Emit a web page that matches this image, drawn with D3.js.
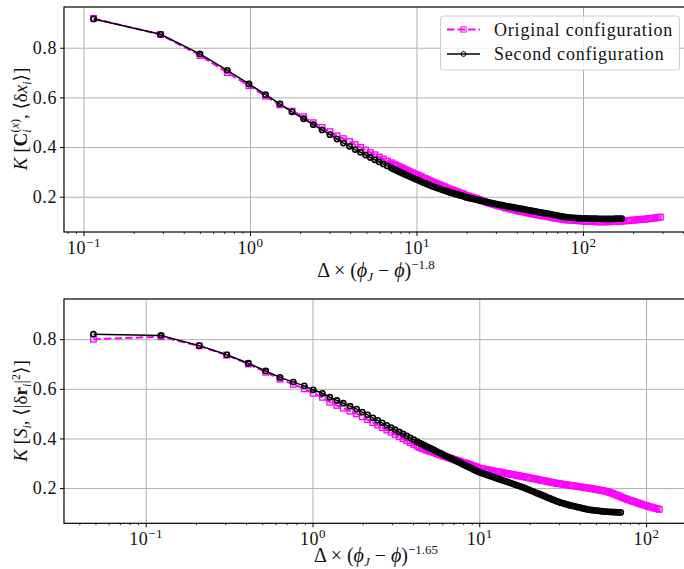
<!DOCTYPE html>
<html><head><meta charset="utf-8">
<script src="https://cdn.jsdelivr.net/npm/d3@7"></script>
<style>
body{margin:0;background:#fff}
svg{display:block}
text{font-family:"Liberation Serif","DejaVu Serif",serif;fill:#111}
</style></head>
<body><svg id="c" width="684" height="569"></svg>
<script>
// ---------- DATA ----------
const seriesNames = ["Original configuration", "Second configuration"];
const xTickValues = [0.1, 1, 10, 100];
const xTickExponents = ["\u22121", "0", "1", "2"];
const yTickValues = [0.2, 0.4, 0.6, 0.8];

const topX = [0.115,0.29,0.50,0.73,0.985,1.24,1.51,1.79,2.10,2.40,
2.71,3.02,3.33,3.64,3.96,4.28,4.61,4.94,5.28,5.62,5.97,6.32,6.68,
7.04,7.25,7.47,7.7,7.93,8.17,8.41,8.66,8.92,9.19,
9.47,9.75,10.04,10.34,10.65,10.97,11.3,11.64,11.99,12.35,
12.72,13.1,13.49,13.9,14.32,14.75,15.19,15.65,16.1,16.6,
17.1,17.6,18.1,18.7,19.2,19.8,20.4,21,21.6,22.3,
23,23.6,24.3,25.1,25.8,26.6,27.4,28.2,29.1,29.9,
30.8,31.8,32.7,33.7,34.7,35.8,36.8,37.9,39.1,40.3,
41.5,42.7,44,45.3,46.7,48.1,49.5,51,52.5,54.1,
55.7,57.4,59.1,60.9,62.7,64.6,66.5,68.5,70.6,72.7,
74.9,77.1,79.4,81.8,84.3,86.8,89.4,92.1,94.8,97.7,
100.6,103.6,106.7,109.9,113.2,116.6,120.1,123.7,127.4,131.2,
135.2,139.2,143.4,147.7,152.1,156.7,161.4,166.2,171.2,
176.4,181.7,187.1,192.7,198.5,204.5,210.6,216.9,223.4,230.1,
237,244.1,251.5,259,266.8,274.8,283,291.5];
const topOriginal = [.918,.853,.769,.700,.647,.605,.570,.545,.522,.498,
.479,.462,.445,.434,.422,.410,.399,.388,.378,.369,.360,.352,.344,
.337,.332,.328,.324,.320,.316,.312,.308,.304,.300,
.296,.292,.289,.285,.281,.276,.273,.269,.265,.261,
.257,.254,.250,.247,.243,.240,.236,.232,.229,.226,
.222,.220,.216,.213,.211,.206,.203,.200,.198,.195,
.192,.189,.186,.183,.180,.177,.174,.172,.169,.167,
.164,.162,.160,.157,.154,.153,.150,.149,.146,.144,
.142,.140,.139,.137,.135,.133,.131,.130,.128,.126,
.125,.123,.122,.120,.119,.117,.115,.114,.112,.111,
.110,.108,.107,.106,.106,.105,.104,.104,.103,.103,
.102,.101,.101,.100,.100,.100,.099,.099,.099,.099,
.099,.099,.099,.100,.100,.100,.101,.101,.102,.103,
.103,.104,.105,.106,.106,.107,.108,.109,.109,.110,
.111,.112,.113,.114,.115,.117,.118];
const topSecond = [.916,.854,.775,.709,.654,.611,.574,.542,.514,.490,
.469,.450,.432,.416,.403,.390,.379,.368,.358,.349,.340,.332,.324,
.317,.312,.308,.304,.300,.296,.292,.288,.284,.280,
.276,.272,.269,.265,.261,.257,.254,.250,.247,.243,
.240,.237,.234,.231,.228,.225,.222,.219,.216,.214,
.211,.209,.206,.204,.202,.198,.196,.194,.192,.190,
.188,.186,.184,.182,.180,.178,.176,.174,.172,.171,
.169,.167,.166,.164,.162,.161,.159,.158,.156,.154,
.153,.151,.150,.148,.146,.145,.143,.142,.140,.138,
.137,.135,.134,.132,.131,.129,.127,.126,.124,.122,
.121,.119,.118,.117,.116,.115,.115,.114,.114,.113,
.113,.113,.112,.112,.112,.112,.112,.111,.111,.111,
.111,.111,.111,.111,.111,.112,.112,.112,.112];

const botX = [0.0486,0.1236,0.2095,0.306,0.412,0.524,0.638,0.767,0.893,1.01,
1.146,1.27,1.40,1.53,1.68,1.84,1.99,2.14,2.30,2.46,
2.62,2.79,2.96,3.13,3.31,3.49,3.67,3.86,4.05,4.24,
4.37,4.50,4.64,4.78,4.92,5.07,5.22,5.38,5.54,5.71,
5.88,6.06,6.24,6.43,6.62,6.82,7.02,7.23,7.45,7.67,
7.9,8.14,8.38,8.63,8.89,9.16,9.43,9.71,10,10.3,
10.61,10.93,11.26,11.6,11.95,12.31,12.68,13.06,13.45,13.85,
14.27,14.7,15.14,15.59,16.06,16.54,17.04,17.55,18.08,18.62,
19.18,19.75,20.34,20.95,21.58,22.23,22.9,23.59,24.3,25.03,
25.78,26.55,27.35,28.17,29.02,29.89,30.79,31.71,32.66,33.64,
34.65,35.69,36.76,37.86,39,40.17,41.38,42.62,43.9,45.22,
46.58,47.98,49.42,50.9,52.43,54,55.62,57.29,59.01,60.78,
62.6,64.48,66.41,68.4,70.45,
72.56,74.74,76.98,79.29,81.67,84.12,86.64,89.24,91.92,94.68,
97.52,100.4,103.4,106.5,109.7,113,116.4,119.9];
const botOriginal = [.800,.810,.773,.736,.700,.667,.639,.618,.600,.582,
.566,.546,.533,.522,.510,.499,.487,.476,.464,.454,
.444,.434,.425,.416,.407,.399,.391,.383,.376,.369,
.364,.361,.358,.354,.351,.348,.346,.343,.339,.336,
.333,.329,.327,.324,.321,.319,.315,.313,.310,.308,
.304,.302,.299,.296,.294,.290,.287,.284,.280,.278,
.277,.275,.273,.272,.270,.268,.267,.265,.264,.262,
.260,.259,.257,.255,.254,.252,.250,.249,.247,.245,
.244,.242,.240,.238,.237,.235,.233,.231,.230,.228,
.226,.224,.223,.221,.219,.218,.217,.215,.214,.213,
.211,.210,.209,.208,.206,.205,.204,.202,.201,.200,
.198,.197,.195,.194,.192,.191,.189,.187,.185,.182,
.179,.175,.172,.169,.165,
.161,.158,.155,.152,.149,.146,.143,.140,.137,.134,
.131,.129,.126,.124,.121,.119,.117,.114];
const botSecond = [.820,.815,.774,.737,.703,.672,.646,.627,.612,.596,
.582,.566,.553,.542,.530,.518,.506,.495,.483,.473,
.463,.453,.444,.435,.426,.418,.410,.402,.395,.387,
.382,.378,.374,.369,.365,.361,.357,.353,.348,.344,
.340,.335,.331,.327,.323,.319,.314,.310,.306,.302,
.297,.293,.289,.285,.281,.276,.272,.268,.264,.261,
.258,.255,.252,.249,.246,.243,.240,.237,.234,.231,
.228,.225,.222,.219,.216,.213,.210,.207,.204,.201,
.197,.194,.190,.187,.183,.179,.176,.172,.169,.165,
.161,.158,.154,.151,.147,.144,.141,.139,.136,.134,
.131,.129,.127,.125,.123,.121,.119,.117,.115,.113,
.112,.111,.110,.109,.108,.107,.106,.105,.105,.104,
.104,.103,.103,.102,.102];

// ---------- DRAW ----------
const svg = d3.select("#c");
const MAG = "#ff00ff";
const FS = 18;

function minorTicks(dom){
  const out=[];
  for(let e=-3;e<=3;e++){for(let m=2;m<=9;m++){const v=m*Math.pow(10,e); if(v>=dom[0]&&v<=dom[1]) out.push(v);} }
  return out;
}

function panel(cfg){
  const L=64, R=700;
  const g = svg.append("g");
  const x = d3.scaleLog().domain(cfg.xdom).range([L,R]);
  const y = d3.scaleLinear().domain(cfg.ydom).range([cfg.bottom,cfg.top]);
  const H = cfg.bottom-cfg.top;
  const clipId = "clip"+cfg.id;
  svg.append("clipPath").attr("id",clipId).append("rect")
    .attr("x",L).attr("y",cfg.top).attr("width",R-L).attr("height",H);

  // grid
  const gx = g.append("g").attr("transform",`translate(0,${cfg.bottom})`)
    .call(d3.axisBottom(x).tickValues(xTickValues).tickSize(-H).tickFormat(""));
  gx.select(".domain").remove();
  gx.selectAll("line").attr("stroke","#b0b0b0").attr("stroke-width",1);
  const gy = g.append("g").attr("transform",`translate(${L},0)`)
    .call(d3.axisLeft(y).tickValues(yTickValues).tickSize(-(R-L)).tickFormat(""));
  gy.select(".domain").remove();
  gy.selectAll("line").attr("stroke","#b0b0b0").attr("stroke-width",1);

  // data
  const data = g.append("g").attr("clip-path",`url(#${clipId})`);
  const line = d3.line().x(d=>x(d[0])).y(d=>y(d[1]));
  const orig = cfg.xs.slice(0,cfg.orig.length).map((v,i)=>[v,cfg.orig[i]]);
  const sec = cfg.xs.slice(0,cfg.sec.length).map((v,i)=>[v,cfg.sec[i]]);
  data.append("path").datum(orig).attr("d",line).attr("fill","none")
    .attr("stroke",MAG).attr("stroke-width",2).attr("stroke-dasharray","7.4,3.2");
  data.selectAll(".sq").data(orig).enter().append("rect")
    .attr("x",d=>x(d[0])-2.8).attr("y",d=>y(d[1])-2.8).attr("width",5.6).attr("height",5.6)
    .attr("fill","none").attr("stroke",MAG).attr("stroke-width",1.3);
  data.append("path").datum(sec).attr("d",line).attr("fill","none")
    .attr("stroke","#000").attr("stroke-width",1.5);
  data.selectAll(".ci").data(sec).enter().append("circle")
    .attr("cx",d=>x(d[0])).attr("cy",d=>y(d[1])).attr("r",2.6)
    .attr("fill","none").attr("stroke","#000").attr("stroke-width",1.6);

  // spines
  g.append("rect").attr("x",L).attr("y",cfg.top).attr("width",R-L).attr("height",H)
    .attr("fill","none").attr("stroke","#000").attr("stroke-width",1.2);

  // x axis major ticks + labels
  const ax = g.append("g").attr("transform",`translate(0,${cfg.bottom})`)
    .call(d3.axisBottom(x).tickValues(xTickValues).tickSize(4).tickPadding(4).tickFormat(""));
  ax.select(".domain").remove();
  ax.selectAll("line").attr("stroke","#000").attr("stroke-width",1);
  ax.selectAll(".tick").each(function(d,i){
    const t=d3.select(this).append("text").attr("y",cfg.tickLabelDy).attr("text-anchor","middle")
      .style("font-size",FS+"px").style("letter-spacing","0.5px");
    t.append("tspan").text("10");
    t.append("tspan").attr("dy",-7).style("font-size","13px").text(xTickExponents[i]);
  });
  const axm = g.append("g").attr("transform",`translate(0,${cfg.bottom})`)
    .call(d3.axisBottom(x).tickValues(minorTicks(cfg.xdom).filter(v=>x(v)<=684)).tickSize(2).tickFormat(""));
  axm.select(".domain").remove();
  axm.selectAll("line").attr("stroke","#000").attr("stroke-width",0.8);

  // y axis
  const ay = g.append("g").attr("transform",`translate(${L},0)`)
    .call(d3.axisLeft(y).tickValues(yTickValues).tickSize(4).tickPadding(3).tickFormat(d3.format(".1f")));
  ay.select(".domain").remove();
  ay.selectAll("line").attr("stroke","#000").attr("stroke-width",1);
  ay.selectAll("text").style("font-size",FS+"px").style("letter-spacing","0.6px")
    .attr("fill","#111").attr("font-family",null);

  // x label
  const xl = g.append("text").attr("x",cfg.xlabelX).attr("y",cfg.xlabelY).attr("text-anchor","middle")
    .style("font-size","20px");
  xl.append("tspan").text("\u0394 \u00d7 (");
  xl.append("tspan").style("font-style","italic").text("\u03d5");
  xl.append("tspan").attr("dy",4).style("font-size","13px").style("font-style","italic").text("J");
  xl.append("tspan").attr("dy",-4).text(" \u2212 ");
  xl.append("tspan").style("font-style","italic").text("\u03d5");
  xl.append("tspan").text(")");
  xl.append("tspan").attr("dy",-8).style("font-size","13px").text(cfg.expo);

  // y label
  const yl = g.append("text").attr("transform",`translate(27,${cfg.ylabelY}) rotate(-90)`)
    .attr("text-anchor","middle").style("font-size","19px");
  cfg.ylabel(yl);
  return {x,y};
}

panel({id:"t", xdom:[0.07636,504.3], ydom:[0.058,0.964], top:7, bottom:232,
  xs:topX, orig:topOriginal, sec:topSecond, tickLabelDy:22, xlabelX:376, xlabelY:277, expo:"\u22121.8",
  ylabelY:119,
  ylabel:(t)=>{
    t.append("tspan").style("font-style","italic").text("K");
    t.append("tspan").text(" [");
    t.append("tspan").style("font-weight","bold").text("C");
    t.append("tspan").attr("dy",4).style("font-size","12px").style("font-style","italic").text("i");
    t.append("tspan").attr("dx",-3).attr("dy",-12).style("font-size","12px").text("(");
    t.append("tspan").style("font-size","12px").style("font-style","italic").text("x");
    t.append("tspan").style("font-size","12px").text(")");
    t.append("tspan").attr("dy",8).text(", \u27e8\u03b4");
    t.append("tspan").style("font-style","italic").text("x");
    t.append("tspan").attr("dy",4).style("font-size","12px").style("font-style","italic").text("i");
    t.append("tspan").attr("dy",-4).text("\u27e9]");
  }});

panel({id:"b", xdom:[0.03237,210.5], ydom:[0.058,0.962], top:299, bottom:523.3,
  xs:botX, orig:botOriginal, sec:botSecond, tickLabelDy:22, xlabelX:376, xlabelY:562, expo:"\u22121.65",
  ylabelY:411,
  ylabel:(t)=>{
    t.append("tspan").style("font-style","italic").text("K");
    t.append("tspan").text(" [");
    t.append("tspan").style("font-style","italic").text("S");
    t.append("tspan").attr("dy",4).style("font-size","12px").style("font-style","italic").text("i");
    t.append("tspan").attr("dy",-4).text(", \u27e8|\u03b4");
    t.append("tspan").style("font-weight","bold").text("r");
    t.append("tspan").attr("dy",4).style("font-size","12px").style("font-style","italic").text("i");
    t.append("tspan").attr("dy",-4).text("|");
    t.append("tspan").attr("dy",-7).style("font-size","12px").text("2");
    t.append("tspan").attr("dy",7).text("\u27e9]");
  }});

// legend (top panel)
const lg = svg.append("g");
lg.append("rect").attr("x",440.5).attr("y",16).attr("width",239).attr("height",54).attr("rx",3)
  .attr("fill","#fff").attr("fill-opacity",0.8).attr("stroke","#cccccc").attr("stroke-width",1);
const legendRows = [{name:seriesNames[0], color:MAG, dash:"7.4,3.2", w:2, mk:"sq", yy:29.5},
                    {name:seriesNames[1], color:"#000", dash:null, w:1.5, mk:"ci", yy:54}];
legendRows.forEach(r=>{
  lg.append("line").attr("x1",447).attr("x2",480).attr("y1",r.yy).attr("y2",r.yy)
    .attr("stroke",r.color).attr("stroke-width",r.w).attr("stroke-dasharray",r.dash);
  if(r.mk==="sq") lg.append("rect").attr("x",463.5-2.6).attr("y",r.yy-2.6).attr("width",5.2).attr("height",5.2)
    .attr("fill","none").attr("stroke",r.color).attr("stroke-width",1);
  else lg.append("circle").attr("cx",463.5).attr("cy",r.yy).attr("r",2.4).attr("fill","none").attr("stroke",r.color);
  lg.append("text").attr("x",494).attr("y",r.yy+6).style("font-size","18px").style("letter-spacing","0.8px").text(r.name);
});
</script></body></html>
